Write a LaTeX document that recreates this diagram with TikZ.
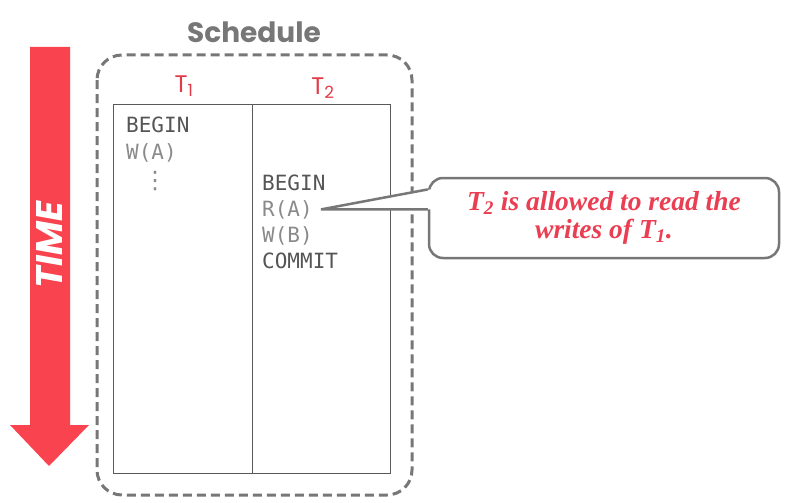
\documentclass[tikz,border=0pt]{standalone}
\usepackage{fontspec}
\setmainfont{Liberation Serif}
\setsansfont{Poppins}
\setmonofont{DejaVu Sans Mono}
\newfontfamily\dotsfont{DejaVu Sans}
\definecolor{timered}{HTML}{F9434E}
\definecolor{txnred}{HTML}{E23B48}
\definecolor{notered}{HTML}{EA3E52}
\definecolor{boxgray}{HTML}{777777}
\definecolor{opgraydark}{HTML}{555555}
\definecolor{opgraylight}{HTML}{8A8A8A}
\tikzstyle{schedbox}=[draw=boxgray,line width=3pt,dash pattern=on 9pt off 5pt,rounded corners=25pt]
\tikzstyle{schedtitle}=[font=\fontsize{28}{32}\selectfont\sffamily\bfseries,text=boxgray]
\tikzstyle{txn}=[font=\fontsize{24}{28}\selectfont\sffamily,text=txnred]
\tikzstyle{tablegrid}=[draw=black!65,line width=1pt]
\tikzstyle{opdark}=[anchor=base west,inner sep=0pt,font=\fontsize{21}{24}\selectfont\ttfamily,text=opgraydark]
\tikzstyle{oplight}=[anchor=base west,inner sep=0pt,font=\fontsize{21}{24}\selectfont\ttfamily,text=opgraylight]
\tikzstyle{timelabel}=[rotate=90,font=\fontsize{37}{40}\selectfont\sffamily\bfseries\itshape,text=white]
\tikzstyle{notebox}=[draw=boxgray,line width=2.5pt,rounded corners=14pt,minimum width=350pt,minimum height=80pt,align=center,font=\fontsize{27.5}{28}\selectfont\bfseries\itshape,text=notered]
\tikzstyle{noteline}=[draw=boxgray,line width=2.5pt,line join=miter]

\begin{document}
\begin{tikzpicture}[x=1pt,y=-1pt]
    \useasboundingbox (0,0) rectangle (795,503);
    % time arrow
    \fill[timered] (30,47) -- (70,47) -- (70,425) -- (89,425) -- (49,466) -- (10,425) -- (30,425) -- cycle;
    \node[timelabel] (time) at (50,245) {TIME};
    % schedule box
    \draw[schedbox] (97,55) rectangle (412,495);
    \node[schedtitle] (sched) at (254,32) {Schedule};
    \node[txn] (t1) at (184,86) {T\textsubscript{1}};
    \node[txn] (t2) at (323,88) {T\textsubscript{2}};
    \draw[tablegrid] (113,104) rectangle (390,473);
    \draw[tablegrid] (252,104) -- (252,473);
    % operations
    \node[opdark] (begin1) at (126,132) {BEGIN};
    \node[oplight] (wa) at (126,159) {W(A)};
    \node[oplight,anchor=center,font=\fontsize{24}{24}\selectfont\dotsfont] (dots) at (155,181) {⋮};
    \node[opdark] (begin2) at (262,190) {BEGIN};
    \node[oplight] (ra) at (262,216) {R(A)};
    \node[oplight] (wb) at (262,242) {W(B)};
    \node[opdark] (commit) at (262,268) {COMMIT};
    % callout
    \node[notebox] (note) at (604,218) {T\textsubscript{2} is allowed to read the\\writes of T\textsubscript{1}.};
    \coordinate (tip) at ([xshift=8pt]ra.east);
    \coordinate (lo) at (note.west |- tip);
    \coordinate (up) at ([yshift=20pt]lo);
    \fill[white] ([xshift=3pt]up) -- (tip) -- ([xshift=3pt]lo) -- cycle;
    \draw[noteline] (up) -- (tip) -- (lo);
\end{tikzpicture}
\end{document}
